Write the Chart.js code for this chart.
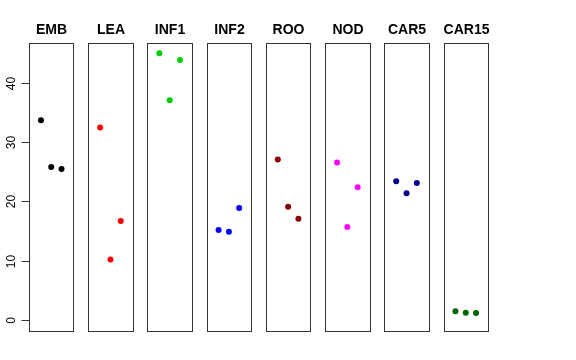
<!DOCTYPE html>
<html>
<head>
<meta charset="utf-8">
<script src="https://cdn.jsdelivr.net/npm/chart.js@4"></script>
<style>
  html, body { margin: 0; padding: 0; background: #fff; }
  canvas { display: block; }
</style>
</head>
<body>
<canvas id="stripChart" width="576" height="360"></canvas>
<script>
// panels and their values (three replicates each)
var categories = ['EMB', 'LEA', 'INF1', 'INF2', 'ROO', 'NOD', 'CAR5', 'CAR15'];
var colors = ['#000000', '#FF0000', '#00CD00', '#0000FF', '#8B0000', '#FF00FF', '#00008B', '#006400'];
var emb = [33.7, 25.8, 25.5];
var lea = [32.5, 10.2, 16.7];
var inf1 = [45.0, 37.1, 43.9];
var inf2 = [15.2, 14.9, 18.9];
var roo = [27.1, 19.1, 17.1];
var nod = [26.6, 15.7, 22.4];
var car5 = [23.4, 21.4, 23.1];
var car15 = [1.47, 1.24, 1.18];
var seriesValues = [emb, lea, inf1, inf2, roo, nod, car5, car15];
var yTicks = [0, 10, 20, 30, 40];

// each panel gets its own strip on a shared x scale
var pitch = 5.75;
var half = 2.16;

var datasets = categories.map(function (name, i) {
    return {
        label: name,
        data: seriesValues[i].map(function (v, j) {
            return { x: i * pitch + j + 1, y: v };
        }),
        backgroundColor: colors[i],
        borderColor: colors[i],
        borderWidth: 0,
        pointRadius: 3,
        pointHoverRadius: 3,
        showLine: false
    };
});

var panels = {
    id: 'panels',
    beforeDatasetsDraw: function (chart) {
        var c = chart.ctx;
        var xs = chart.scales.x, ys = chart.scales.y;
        var top = chart.chartArea.top, bottom = chart.chartArea.bottom;
        c.save();
        c.strokeStyle = '#333';
        c.lineWidth = 1;
        categories.forEach(function (name, i) {
            var l = Math.round(xs.getPixelForValue(i * pitch + 2 - half)) + 0.5;
            var r = Math.round(xs.getPixelForValue(i * pitch + 2 + half)) + 0.5;
            c.strokeRect(l, Math.round(top) + 0.5, r - l, Math.round(bottom) - Math.round(top));
            c.fillStyle = '#000';
            c.font = 'bold 14px "Liberation Sans", Arial, sans-serif';
            c.textAlign = 'center';
            c.textBaseline = 'alphabetic';
            c.fillText(name, (l + r) / 2, 34);
        });
        // y axis ticks and rotated labels
        var axisX = Math.round(xs.getPixelForValue(2 - half)) + 0.5;
        c.font = '12px "Liberation Sans", Arial, sans-serif';
        yTicks.forEach(function (t) {
            var py = Math.round(ys.getPixelForValue(t)) + 0.5;
            c.beginPath();
            c.moveTo(axisX - 8, py);
            c.lineTo(axisX, py);
            c.stroke();
            c.save();
            c.translate(14.5, py);
            c.rotate(-Math.PI / 2);
            c.textAlign = 'center';
            c.fillText(String(t), 0, 0);
            c.restore();
        });
        c.restore();
    }
};

var chart = new Chart(document.getElementById('stripChart').getContext('2d'), {
    type: 'scatter',
    data: { datasets: datasets },
    options: {
        responsive: false,
        animation: false,
        layout: { padding: { left: 29, top: 43, right: 88, bottom: 29 } },
        scales: {
            x: { display: false, min: 2 - half, max: 7 * pitch + 2 + half },
            y: { display: false, min: -1.86, max: 46.75 }
        },
        plugins: { legend: { display: false }, tooltip: { enabled: false } }
    },
    plugins: [panels]
});
</script>
</body>
</html>
